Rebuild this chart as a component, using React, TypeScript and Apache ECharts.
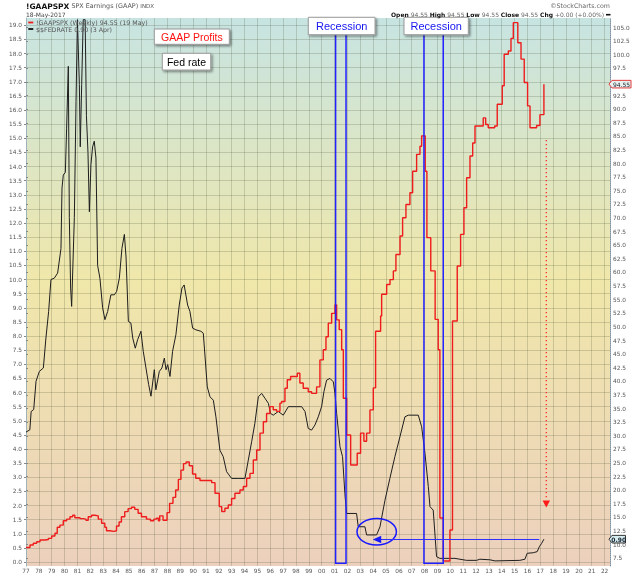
import React, { useEffect, useRef } from 'react';
import * as echarts from 'echarts';

// ---- Data ----
const fedYears = [
  1977.0, 1977.3, 1977.4, 1977.6, 1977.78, 1978.04, 1978.35, 1978.55, 1978.76, 1978.94,
  1979.2, 1979.46, 1979.72, 1979.8, 1979.9, 1980.06, 1980.16, 1980.29, 1980.37, 1980.47,
  1980.55, 1980.76, 1980.89, 1981.0, 1981.15, 1981.22, 1981.33, 1981.45, 1981.6, 1981.7,
  1981.82, 1981.93, 1982.05, 1982.18, 1982.31, 1982.44, 1982.57, 1982.75, 1982.96, 1983.14,
  1983.35, 1983.6, 1983.87, 1984.05, 1984.26, 1984.46, 1984.65, 1984.78, 1984.96, 1985.16,
  1985.3, 1985.5, 1985.68, 1985.94, 1986.12, 1986.33, 1986.54, 1986.72, 1986.98, 1987.1,
  1987.37, 1987.57, 1987.76, 1987.89, 1988.02, 1988.2, 1988.4, 1988.66, 1988.92, 1989.13,
  1989.3, 1989.57, 1989.75, 1989.96, 1990.22, 1990.6, 1990.79, 1991.1, 1991.31, 1991.57,
  1991.77, 1992.08, 1992.34, 1992.6, 1992.99, 1993.5, 1994.03, 1994.29, 1994.55, 1994.8,
  1995.07, 1995.33, 1995.58, 1995.85, 1996.02, 1996.23, 1996.62, 1997.01, 1997.4, 1998.05,
  1998.44, 1998.7, 1998.95, 1999.21, 1999.47, 1999.73, 1999.99, 2000.17, 2000.38, 2000.64,
  2000.9, 2001.03, 2001.16, 2001.42, 2001.62, 2001.8, 2001.93, 2002.71, 2002.84, 2003.36,
  2003.49, 2004.27, 2004.53, 2004.92, 2005.3, 2005.69, 2006.08, 2006.47, 2006.73, 2007.51,
  2007.77, 2008.03, 2008.29, 2008.42, 2008.67, 2008.93, 2009.19, 2010.36, 2010.75, 2011.26,
  2012.04, 2012.3, 2013.08, 2013.47, 2015.41, 2015.8, 2015.98, 2016.45, 2016.76, 2016.92,
  2017.1, 2017.28,
];
const fedRates = [
  4.6, 4.68, 5.33, 5.4, 6.4, 6.75, 6.87, 7.93, 8.87, 10.0,
  10.05, 10.23, 11.1, 13.24, 13.7, 13.8, 15.36, 17.55, 12.2, 9.7,
  9.05, 12.2, 16.3, 19.2, 16.9, 14.7, 16.9, 19.2, 19.2, 15.8,
  14.5, 12.4, 14.07, 14.7, 14.9, 14.3, 10.5, 10.05, 9.0, 8.58,
  8.87, 9.46, 9.46, 9.58, 10.05, 11.1, 11.6, 10.8, 8.52, 8.46,
  7.93, 7.57, 7.87, 8.17, 7.46, 6.87, 6.28, 5.87, 6.81, 6.1,
  6.75, 6.87, 7.22, 6.81, 6.99, 6.57, 7.46, 8.05, 9.1, 9.7,
  9.81, 9.1, 8.87, 8.28, 8.22, 8.17, 8.1, 6.2, 5.85, 5.73,
  5.14, 3.96, 3.73, 3.2, 2.96, 2.96, 2.96, 3.61, 4.26, 4.91,
  5.85, 5.97, 5.8, 5.62, 5.26, 5.2, 5.33, 5.2, 5.5, 5.5,
  5.5, 5.33, 4.73, 4.67, 4.85, 5.14, 5.5, 6.03, 6.44, 6.5,
  6.38, 5.97, 5.26, 4.08, 3.73, 2.43, 1.72, 1.72, 1.25, 1.25,
  0.96, 0.96, 1.25, 2.19, 2.96, 3.73, 4.43, 5.14, 5.2, 5.2,
  4.79, 3.85, 2.67, 1.96, 1.84, 0.19, 0.13, 0.13, 0.1, 0.06,
  0.06, 0.1, 0.08, 0.04, 0.06, 0.1, 0.31, 0.33, 0.37, 0.54,
  0.66, 0.81,
];

const gaapYears = [
  1977.0, 1977.31, 1977.57, 1977.83, 1978.09, 1978.48, 1978.74, 1979.0, 1979.25, 1979.43,
  1979.64, 1979.9, 1980.16, 1980.42, 1980.63, 1980.8, 1981.2, 1981.45, 1981.66, 1981.84,
  1982.1, 1982.36, 1982.62, 1982.88, 1983.13, 1983.26, 1983.52, 1983.83, 1984.04, 1984.24,
  1984.42, 1984.68, 1984.94, 1985.2, 1985.46, 1985.72, 1985.98, 1986.37, 1986.68, 1986.94,
  1987.14, 1987.3, 1987.4, 1987.66, 1987.97, 1988.17, 1988.43, 1988.64, 1988.85, 1989.05,
  1989.25, 1989.45, 1989.7, 1989.95, 1990.2, 1990.53, 1991.05, 1991.44, 1991.7, 1992.03,
  1992.22, 1992.47, 1992.73, 1992.99, 1993.25, 1993.64, 1993.9, 1994.16, 1994.42, 1994.68,
  1994.94, 1995.2, 1995.46, 1995.71, 1995.97, 1996.23, 1996.49, 1996.75, 1996.88, 1997.14,
  1997.32, 1997.58, 1998.1, 1998.3, 1998.56, 1998.95, 1999.21, 1999.6, 1999.86, 2000.12,
  2000.33, 2000.51, 2000.77, 2001.03, 2001.16, 2001.36, 2001.55, 2001.68, 2001.94, 2002.25,
  2002.76, 2003.02, 2003.28, 2003.49, 2003.75, 2004.01, 2004.19, 2004.58, 2004.66, 2005.05,
  2005.31, 2005.57, 2005.77, 2006.09, 2006.29, 2006.55, 2006.86, 2007.07, 2007.38, 2007.64,
  2007.77, 2008.05, 2008.18, 2008.48, 2008.82, 2009.06, 2009.19, 2009.45, 2009.97, 2010.17,
  2010.54, 2010.8, 2011.06, 2011.27, 2011.53, 2011.74, 2011.92, 2012.56, 2012.75, 2012.95,
  2013.45, 2013.65, 2014.04, 2014.19, 2014.51, 2014.72, 2014.9, 2015.25, 2015.5, 2015.75,
  2016.01, 2016.2, 2016.71, 2016.97, 2017.28,
];
const gaapEps = [
  9.5, 9.94, 10.26, 10.55, 10.86, 10.96, 11.17, 11.6, 12.1, 13.2,
  13.6, 14.4, 14.7, 15.15, 15.4, 14.95, 14.8, 14.7, 14.5, 15.15,
  15.4, 15.3, 14.7, 13.93, 13.2, 12.57, 12.45, 12.57, 13.44, 14.17,
  15.15, 16.07, 16.62, 16.87, 16.5, 15.77, 15.15, 14.7, 14.4, 14.7,
  14.86, 14.4, 15.3, 14.5, 15.9, 17.6, 18.7, 20.05, 22.0, 23.7,
  24.9, 25.2, 24.5, 23.0, 22.2, 21.8, 21.8, 21.4, 19.45, 17.0,
  16.1, 16.7, 17.3, 18.5, 19.45, 20.05, 20.7, 22.2, 23.1, 25.57,
  27.4, 30.5, 32.6, 34.1, 35.37, 34.8, 34.5, 36.0, 36.3, 38.75,
  40.3, 40.9, 41.5, 39.7, 38.75, 38.1, 37.8, 39.0, 43.95, 45.8,
  48.2, 50.7, 52.5, 54.06, 51.3, 49.5, 45.8, 36.9, 30.16, 24.65,
  26.8, 30.5, 29.0, 30.5, 34.76, 38.8, 49.2, 52.0, 56.0, 57.8,
  58.7, 60.3, 63.3, 66.7, 70.05, 72.5, 74.65, 78.6, 81.7, 83.2,
  85.1, 78.6, 66.4, 60.3, 51.4, 45.8, 14.9, 7.0, 12.7, 51.1,
  61.2, 67.0, 71.9, 77.4, 81.4, 83.8, 86.9, 88.4, 87.2, 86.6,
  86.9, 90.9, 94.3, 100.1, 100.7, 103.0, 105.9, 102.2, 99.2, 94.9,
  90.6, 86.6, 87.0, 89.0, 94.6,
];

const recessionStart = [2001.08, 2007.95];
const recessionEnd = [2001.89, 2009.45];

const gaapLastText = '94.55';
const fedLastText = '0.90';
const headerTitle = '!GAAPSPX';
const headerName = 'SPX Earnings (GAAP)';
const headerExchange = 'INDX';
const headerDate = '18-May-2017';
const legendGaap = '!GAAPSPX (Weekly) 94.55 (19 May)';
const legendFed = '$$FEDRATE 0.90 (3 Apr)';

const FONT = 'DejaVu Sans';
const GRID_COLOR = 'rgba(60,70,40,0.2)';
const LEFT_MIN = -0.14;
const LEFT_MAX = 19.26;
const BLUE = '#2222ff';

export default function App() {
  const ref = useRef<HTMLDivElement>(null);

  useEffect(() => {
    if (!ref.current) return;
    const chart = echarts.init(ref.current, null, { renderer: 'svg' });
    const fedData = fedYears.map((y, i) => [y, fedRates[i]]);
    const gaapData = gaapYears.map((y, i) => [y, gaapEps[i]]);
    const lastGaap = gaapEps[gaapEps.length - 1];

    const option: any = {
      animation: false,
      textStyle: { fontFamily: FONT },
      grid: [
        {
          left: 26, right: 30, top: 18, bottom: 10, show: true, borderWidth: 0,
          backgroundColor: new echarts.graphic.LinearGradient(0, 0, 0, 1, [
            { offset: 0, color: '#c7e4e2' },
            { offset: 0.48, color: '#f0e7aa' },
            { offset: 1, color: '#ecd0bd' },
          ]),
        },
        { left: 26, right: 30, top: 25.35, bottom: 13.95 },
        { left: 26, right: 30, top: 27.5, bottom: 17.7 },
      ],
      xAxis: [
        {
          type: 'value', gridIndex: 0, min: 1977, max: 2022.42, interval: 1,
          axisLine: { show: false }, axisTick: { show: false },
          axisLabel: {
            margin: 2, fontSize: 5.8, color: '#555', fontFamily: FONT,
            formatter: (v: number) =>
              Math.abs(v - Math.round(v)) < 1e-6 ? String(Math.round(v) % 100).padStart(2, '0') : '',
          },
          splitLine: { show: true, lineStyle: { color: GRID_COLOR, width: 1 } },
        },
        { type: 'value', gridIndex: 1, min: 0, max: 1, show: false },
        { type: 'value', gridIndex: 2, min: 0, max: 1, show: false },
      ],
      yAxis: [
        {
          type: 'value', gridIndex: 0, position: 'left', min: LEFT_MIN, max: LEFT_MAX,
          axisLine: { show: true, onZero: false, lineStyle: { color: '#9fb3bb', width: 1 } },
          axisTick: { show: false }, axisLabel: { show: false }, splitLine: { show: false },
        },
        {
          type: 'value', gridIndex: 0, position: 'right', min: 6.09, max: 106.75,
          axisLine: { show: true, onZero: false, lineStyle: { color: '#7f93a6', width: 1, type: 'dotted' } },
          axisTick: { show: false }, axisLabel: { show: false }, splitLine: { show: false },
        },
        {
          type: 'value', gridIndex: 1, position: 'left', min: 0, max: 19, interval: 0.5,
          axisLine: { show: false },
          axisTick: { show: true, length: 2, lineStyle: { color: '#888' } },
          axisLabel: { margin: 4, fontSize: 5.8, color: '#555', fontFamily: FONT, formatter: (v: number) => v.toFixed(1) },
          splitLine: { show: true, lineStyle: { color: GRID_COLOR, width: 1 } },
        },
        {
          type: 'value', gridIndex: 2, position: 'right', min: 7.5, max: 105, interval: 2.5,
          axisLine: { show: false },
          axisTick: { show: true, length: 2, lineStyle: { color: '#888' } },
          axisLabel: {
            margin: 3, fontSize: 5.8, color: '#555', fontFamily: FONT,
            formatter: (v: number) => (Math.abs(v - lastGaap) < 1.25 ? '' : v.toFixed(1)),
          },
          splitLine: { show: false },
        },
      ],
      series: [
        {
          type: 'line', name: 'FEDRATE', xAxisIndex: 0, yAxisIndex: 0, data: fedData,
          symbol: 'none', lineStyle: { color: '#1e1e1e', width: 1 }, z: 3,
        },
        {
          type: 'line', name: 'GAAPSPX', xAxisIndex: 0, yAxisIndex: 1, data: gaapData,
          step: 'end', symbol: 'none', lineStyle: { color: '#ee1c1c', width: 1.4 }, z: 4,
        },
      ],
    };
    chart.setOption(option);

    const px = (x: number, y: number) => chart.convertToPixel({ xAxisIndex: 0, yAxisIndex: 0 } as any, [x, y]) as unknown as number[];
    const yG = chart.convertToPixel({ yAxisIndex: 1 } as any, lastGaap) as unknown as number;
    const yF = chart.convertToPixel({ yAxisIndex: 0 } as any, fedRates[fedRates.length - 1]) as unknown as number;

    const txt = (x: number, y: number, text: string, font: string, fill: string, align = 'left', extra: any = {}) => ({
      type: 'text', x, y, z: 101,
      style: { text, font, fill, textAlign: align, align, textVerticalAlign: 'middle', verticalAlign: 'middle', ...extra },
    });
    const box = (x: number, y: number, w: number, h: number) => ({
      type: 'rect', z: 100,
      shape: { x, y, width: w, height: h },
      style: {
        fill: '#ffffff', stroke: '#9a9a9a', lineWidth: 1,
        shadowBlur: 2, shadowOffsetX: 1.5, shadowOffsetY: 1.5, shadowColor: 'rgba(0,0,0,0.45)',
      },
    });
    const badge = (y: number, x0: number, x1: number, text: string, stroke: string, fill: string, bold: boolean) => [
      {
        type: 'polygon', z: 100,
        shape: { points: [[x0, y], [x0 + 3, y - 3.8], [x1, y - 3.8], [x1, y + 3.8], [x0 + 3, y + 3.8]] },
        style: { fill, stroke, lineWidth: 1 },
      },
      txt((x0 + 3 + x1) / 2, y, text, `${bold ? 'bold ' : ''}6px "${FONT}"`, '#1a2233', 'center'),
    ];

    // recession outlines (open at the top, like the reference)
    const recessionEls: any[] = [];
    recessionStart.forEach((s, i) => {
      const a = px(s, LEFT_MAX);
      const b = px(recessionEnd[i], -0.04);
      recessionEls.push({
        type: 'polyline', z: 50, silent: true,
        shape: { points: [[a[0], a[1]], [a[0], b[1]], [b[0], b[1]], [b[0], a[1]]] },
        style: { stroke: BLUE, lineWidth: 1.5, fill: null },
      });
    });

    const elements: any[] = [
      ...recessionEls,
      txt(26, 6, `{b|${headerTitle}} {n|${headerName}} {s|${headerExchange}}`, `6.5px "${FONT}"`, '#555', 'left', {
        rich: {
          b: { fontFamily: FONT, fontSize: 7.5, fontWeight: 'bold', fill: '#111', color: '#111' },
          n: { fontFamily: FONT, fontSize: 6.4, fill: '#555', color: '#555' },
          s: { fontFamily: FONT, fontSize: 5.5, fill: '#555', color: '#555' },
        },
      }),
      txt(26, 14.7, headerDate, `6px "${FONT}"`, '#444'),
      txt(610, 5.8, '©StockCharts.com', `6.3px "${FONT}"`, '#666', 'right'),
      txt(604, 14.7,
        `{b|Open} {v|${gaapLastText}} {b|High} {v|${gaapLastText}} {b|Low} {v|${gaapLastText}} {b|Close} {v|${gaapLastText}} {b|Chg} {v|+0.00 (+0.00%)}`,
        `6px "${FONT}"`, '#666', 'right', {
          rich: {
            b: { fontFamily: FONT, fontSize: 6, fontWeight: 'bold', fill: '#111', color: '#111' },
            v: { fontFamily: FONT, fontSize: 6, fill: '#666', color: '#666' },
          },
        }),
      { type: 'line', z: 101, shape: { x1: 606, y1: 14.7, x2: 610.5, y2: 14.7 }, style: { stroke: '#111', lineWidth: 1.6 } },
      { type: 'line', z: 101, shape: { x1: 28.3, y1: 22.5, x2: 33.3, y2: 22.5 }, style: { stroke: '#ee1c1c', lineWidth: 1.8 } },
      txt(36, 22.7, legendGaap, `6.3px "${FONT}"`, '#555'),
      { type: 'line', z: 101, shape: { x1: 28.3, y1: 29, x2: 33.3, y2: 29 }, style: { stroke: '#111', lineWidth: 1.8 } },
      txt(36, 29.2, legendFed, `6.3px "${FONT}"`, '#555'),
      box(154.3, 29, 75, 15.3),
      txt(191.8, 36.8, 'GAAP Profits', `10.5px "Liberation Sans"`, '#ff1010', 'center'),
      box(162.3, 53.3, 48.4, 16.7),
      txt(186.5, 61.8, 'Fed rate', `10.5px "Liberation Sans"`, '#000', 'center'),
      box(308.3, 17.3, 66.7, 17.4),
      txt(341.7, 26.2, 'Recession', `11px "Liberation Sans"`, '#1515f0', 'center'),
      box(404, 17.3, 64.3, 17.4),
      txt(436.2, 26.2, 'Recession', `11px "Liberation Sans"`, '#1515f0', 'center'),
      { type: 'ellipse', z: 100, shape: { cx: 376.7, cy: 531.7, rx: 19.7, ry: 13.2 }, style: { fill: 'none', stroke: '#1a1aff', lineWidth: 1.5 } },
      { type: 'line', z: 100, shape: { x1: 539.3, y1: 539.5, x2: 379, y2: 539.5 }, style: { stroke: '#3030ff', lineWidth: 1.1 } },
      { type: 'polygon', z: 100, shape: { points: [[372.8, 539.5], [381.2, 535.8], [381.2, 543.2]] }, style: { fill: '#1a1aff' } },
      { type: 'line', z: 100, shape: { x1: 546.3, y1: 140, x2: 546.3, y2: 500 }, style: { stroke: '#ff2a2a', lineWidth: 1.3, lineDash: [1.2, 2.8] } },
      { type: 'polygon', z: 100, shape: { points: [[542.6, 500.5], [550, 500.5], [546.3, 507.6]] }, style: { fill: '#ff1a1a' } },
      ...badge(yG, 609, 631, gaapLastText, '#e03a3a', '#e9f2ee', false),
      ...badge(yF, 609, 625.5, fedLastText, '#333', '#d6eef0', true),
    ];
    chart.setOption({ graphic: { elements } });

    return () => chart.dispose();
  }, []);

  return <div ref={ref} style={{ position: 'fixed', left: 0, top: 0, width: 640, height: 576 }} />;
}
